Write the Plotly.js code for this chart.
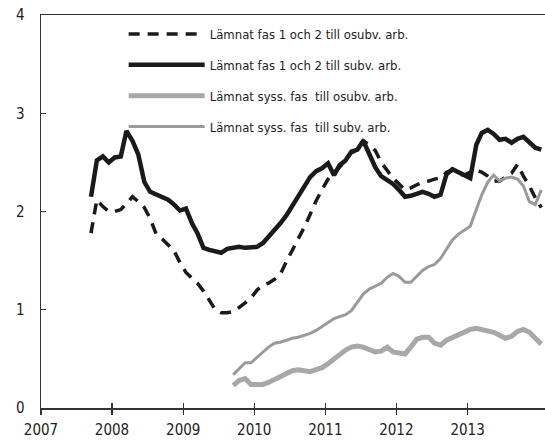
<!DOCTYPE html>
<html>
<head>
<meta charset="utf-8">
<script src="https://cdn.plot.ly/plotly-3.0.1.min.js"></script>
<style>
html,body{margin:0;padding:0;background:#fff;}
#chart{width:545px;height:441px;}
</style>
</head>
<body>
<div id="chart"></div>
<script>
// Monthly observations, Sep 2007 – Jan 2014
var months = [
 '2007-09-15','2007-10-15','2007-11-15','2007-12-15',
 '2008-01-15','2008-02-15','2008-03-15','2008-04-15','2008-05-15','2008-06-15','2008-07-15','2008-08-15','2008-09-15','2008-10-15','2008-11-15','2008-12-15',
 '2009-01-15','2009-02-15','2009-03-15','2009-04-15','2009-05-15','2009-06-15','2009-07-15','2009-08-15','2009-09-15','2009-10-15','2009-11-15','2009-12-15',
 '2010-01-15','2010-02-15','2010-03-15','2010-04-15','2010-05-15','2010-06-15','2010-07-15','2010-08-15','2010-09-15','2010-10-15','2010-11-15','2010-12-15',
 '2011-01-15','2011-02-15','2011-03-15','2011-04-15','2011-05-15','2011-06-15','2011-07-15','2011-08-15','2011-09-15','2011-10-15','2011-11-15','2011-12-15',
 '2012-01-15','2012-02-15','2012-03-15','2012-04-15','2012-05-15','2012-06-15','2012-07-15','2012-08-15','2012-09-15','2012-10-15','2012-11-15','2012-12-15',
 '2013-01-15','2013-02-15','2013-03-15','2013-04-15','2013-05-15','2013-06-15','2013-07-15','2013-08-15','2013-09-15','2013-10-15','2013-11-15','2013-12-15',
 '2014-01-15'
];
// Grey series start Sep 2009
var monthsSyss = months.slice(24);

var fasOsubv = [1.78,2.12,2.05,2.00,2.00,2.02,2.08,2.15,2.10,2.04,
 1.93,1.77,1.72,1.66,1.60,1.48,1.38,1.32,1.27,1.19,
 1.10,1.00,0.97,0.97,0.98,1.02,1.07,1.12,1.20,1.25,
 1.27,1.31,1.36,1.49,1.60,1.72,1.84,1.97,2.11,2.22,
 2.33,2.40,2.45,2.52,2.60,2.62,2.72,2.68,2.62,2.50,
 2.42,2.34,2.28,2.22,2.24,2.27,2.30,2.31,2.33,2.34,
 2.40,2.42,2.38,2.37,2.40,2.42,2.40,2.36,2.31,2.31,
 2.35,2.39,2.48,2.36,2.26,2.14,2.04];

var fasSubv = [2.15,2.52,2.56,2.50,2.55,2.56,2.82,2.72,2.58,2.30,
 2.20,2.17,2.14,2.12,2.07,2.01,2.03,1.88,1.78,1.63,
 1.61,1.59,1.58,1.62,1.63,1.64,1.63,1.63,1.64,1.68,
 1.74,1.80,1.88,1.96,2.06,2.15,2.26,2.35,2.41,2.44,
 2.49,2.37,2.47,2.52,2.61,2.63,2.72,2.57,2.45,2.36,
 2.32,2.28,2.22,2.15,2.16,2.18,2.20,2.18,2.15,2.17,
 2.38,2.43,2.40,2.38,2.34,2.68,2.80,2.83,2.79,2.73,
 2.74,2.70,2.74,2.76,2.70,2.65,2.63];

var syssOsubv = [0.23,0.28,0.30,0.24,0.24,0.24,0.26,0.29,0.32,0.35,
 0.38,0.39,0.38,0.37,0.39,0.41,0.45,0.50,0.54,0.59,
 0.62,0.63,0.62,0.59,0.57,0.58,0.62,0.57,0.56,0.55,
 0.62,0.70,0.72,0.72,0.66,0.64,0.69,0.72,0.75,0.78,
 0.80,0.81,0.80,0.79,0.77,0.74,0.71,0.73,0.78,0.80,
 0.77,0.71,0.65];

var syssSubv = [0.34,0.40,0.46,0.46,0.52,0.57,0.62,0.66,0.67,0.69,
 0.71,0.72,0.74,0.76,0.79,0.83,0.87,0.91,0.93,0.95,
 0.99,1.08,1.16,1.21,1.24,1.27,1.33,1.37,1.34,1.28,
 1.28,1.34,1.40,1.44,1.46,1.52,1.62,1.71,1.77,1.81,
 1.85,2.02,2.17,2.30,2.37,2.31,2.34,2.35,2.33,2.26,
 2.10,2.07,2.22];

var names = [
 'Lämnat fas 1 och 2 till osubv. arb.',
 'Lämnat fas 1 och 2 till subv. arb.',
 'Lämnat syss. fas\u00a0 till osubv. arb.',
 'Lämnat syss. fas\u00a0 till subv. arb.'
];
var yearTicks = ['2007-01-01','2008-01-01','2009-01-01','2010-01-01','2011-01-01','2012-01-01','2013-01-01'];
var yearLabels = ['2007','2008','2009','2010','2011','2012','2013'];

var FONT = 'DejaVu Sans Condensed, Liberation Sans Narrow, sans-serif';

var traces = [
 {x: months, y: fasOsubv, name: names[0], type: 'scatter', mode: 'lines', legendgroup: 'a',
  line: {color: '#1a1a1a', width: 3.5, dash: '11px,8px'}},
 {x: months, y: fasSubv, name: names[1], type: 'scatter', mode: 'lines', legendgroup: 'b',
  line: {color: '#1a1a1a', width: 4.5}},
 {x: monthsSyss, y: syssOsubv, name: names[2], type: 'scatter', mode: 'lines', legendgroup: 'c',
  line: {color: '#a8a8aa', width: 5}},
 {x: monthsSyss, y: syssSubv, name: names[3], type: 'scatter', mode: 'lines', legendgroup: 'd',
  line: {color: '#9a9a9a', width: 3}},
 // empty helper trace so the second (inside-tick) x axis gets drawn
 {x: [yearTicks[0]], y: [null], xaxis: 'x2', type: 'scatter', mode: 'lines', showlegend: false,
  hoverinfo: 'skip'}
];

var layout = {
 width: 545, height: 441,
 margin: {l: 41, r: 0, t: 15, b: 33, pad: 0},
 paper_bgcolor: '#fff', plot_bgcolor: '#fff',
 font: {family: FONT, size: 15, color: '#222'},
 showlegend: true,
 legend: {x: 0.164, y: 0.99, xanchor: 'left', yanchor: 'top', bgcolor: 'rgba(0,0,0,0)',
  font: {family: FONT, size: 13, color: '#222'}, itemwidth: 76, tracegroupgap: 11,
  traceorder: 'grouped'},
 xaxis: {type: 'date', range: ['2007-01-01', '2014-02-03'], tickvals: yearTicks, ticktext: yearLabels,
  ticks: 'outside', ticklen: 5, tickcolor: '#333', tickwidth: 1.2, showline: true, mirror: true,
  linecolor: '#333', linewidth: 1.5, showgrid: false, zeroline: false, ticklabelstandoff: 2,
  tickfont: {family: FONT, size: 15, color: '#222'}},
 xaxis2: {type: 'date', range: ['2007-01-01', '2014-02-03'], tickvals: yearTicks, overlaying: 'x',
  anchor: 'y', side: 'bottom', ticks: 'inside', ticklen: 5, tickcolor: '#333', tickwidth: 1.2,
  showticklabels: false, showline: false, showgrid: false, zeroline: false},
 yaxis: {range: [0, 4], tickvals: [0, 1, 2, 3, 4], ticks: 'inside', ticklen: 5, tickcolor: '#333',
  tickwidth: 1.2, showline: true, linecolor: '#333', linewidth: 1.5, showgrid: false, zeroline: false,
  ticklabelstandoff: 12, tickfont: {family: FONT, size: 15, color: '#222'}}
};

Plotly.newPlot('chart', traces, layout, {displayModeBar: false, staticPlot: true});
</script>
</body>
</html>
